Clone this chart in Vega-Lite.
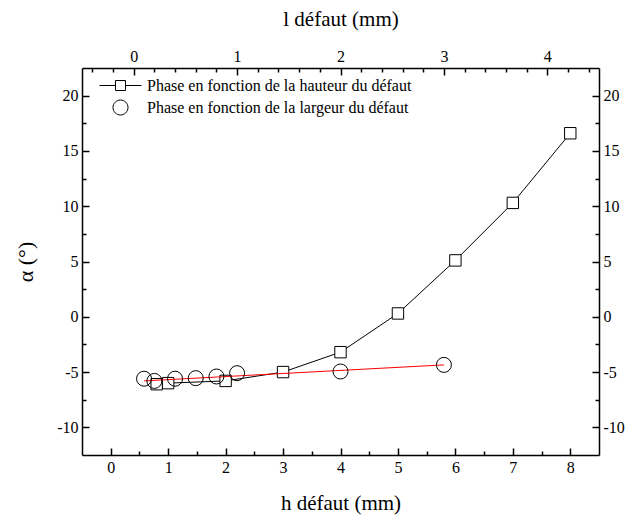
{
  "$schema": "https://vega.github.io/schema/vega-lite/v6.json",
  "width": 517,
  "height": 387,
  "autosize": "none",
  "padding": {"left": 82, "top": 68, "right": 37, "bottom": 70},
  "background": "white",
  "config": {
    "view": {"stroke": null},
    "axis": {
      "labelFont": "Liberation Serif",
      "labelFontSize": 16,
      "labelColor": "black",
      "labelOverlap": false,
      "labelFlush": false,
      "labelBound": false,
      "titleFont": "Liberation Serif",
      "titleColor": "black",
      "titleFontWeight": "normal",
      "grid": false,
      "domainColor": "black",
      "domainWidth": 1.5,
      "tickColor": "black",
      "tickWidth": 1.5
    },
    "legend": {
      "labelFont": "Liberation Serif",
      "labelFontSize": 16,
      "labelColor": "black",
      "labelLimit": 0
    }
  },
  "datasets": {
    "hauteur": [
      {"h": 0.8, "alpha": -6.1},
      {"h": 1, "alpha": -6.0},
      {"h": 2, "alpha": -5.8},
      {"h": 3, "alpha": -5.0},
      {"h": 4, "alpha": -3.2},
      {"h": 5, "alpha": 0.3},
      {"h": 6, "alpha": 5.1},
      {"h": 7, "alpha": 10.3},
      {"h": 8, "alpha": 16.6}
    ],
    "largeur": [
      {"l": 0.1, "alpha": -5.6},
      {"l": 0.2, "alpha": -5.8},
      {"l": 0.4, "alpha": -5.6},
      {"l": 0.6, "alpha": -5.55},
      {"l": 0.8, "alpha": -5.4},
      {"l": 1.0, "alpha": -5.1},
      {"l": 2.0, "alpha": -4.95},
      {"l": 3.0, "alpha": -4.35}
    ],
    "fit": [
      {"l": 0.1, "alpha": -5.8},
      {"l": 3.0, "alpha": -4.35}
    ],
    "legende": [
      {"serie": "Phase en fonction de la hauteur du défaut"},
      {"serie": "Phase en fonction de la largeur du défaut"}
    ]
  },
  "layer": [
    {
      "encoding": {
        "x": {
          "field": "h", "type": "quantitative",
          "scale": {"domain": [-0.5, 8.5], "nice": false, "zero": false},
          "axis": {
            "orient": "bottom",
            "values": [0, 0.5, 1, 1.5, 2, 2.5, 3, 3.5, 4, 4.5, 5, 5.5, 6, 6.5, 7, 7.5, 8],
            "labelExpr": "datum.value % 1 === 0 ? '' + datum.value : ''",
            "labelOverlap": false,
            "tickSize": {"condition": {"test": "datum.value % 1 === 0", "value": -7}, "value": -4},
            "labelPadding": 11,
            "title": "h défaut (mm)",
            "titleFontSize": 21,
            "titlePadding": 14
          }
        },
        "y": {
          "field": "alpha", "type": "quantitative",
          "scale": {"domain": [-12.5, 22.5], "nice": false, "zero": false},
          "axis": {
            "orient": "left",
            "values": [-10, -7.5, -5, -2.5, 0, 2.5, 5, 7.5, 10, 12.5, 15, 17.5, 20],
            "labelExpr": "datum.value % 5 === 0 ? '' + datum.value : ''",
            "labelOverlap": false,
            "tickSize": {"condition": {"test": "datum.value % 5 === 0", "value": -7}, "value": -4},
            "labelPadding": 11,
            "title": "α (°)",
            "titleFontSize": 22,
            "titlePadding": 19
          }
        }
      },
      "layer": [
        {
          "data": {"name": "hauteur"},
          "mark": {"type": "line", "color": "black", "strokeWidth": 1}
        },
        {
          "data": {"name": "hauteur"},
          "mark": {"type": "point", "shape": "square", "size": 130, "filled": true, "fill": "white", "stroke": "black", "strokeWidth": 1, "opacity": 1}
        }
      ]
    },
    {
      "encoding": {
        "x": {
          "field": "l", "type": "quantitative",
          "scale": {"domain": [-0.5, 4.5], "nice": false, "zero": false},
          "axis": {
            "orient": "top",
            "values": [-0.4, -0.2, 0, 0.2, 0.4, 0.6, 0.8, 1, 1.2, 1.4, 1.6, 1.8, 2, 2.2, 2.4, 2.6, 2.8, 3, 3.2, 3.4, 3.6, 3.8, 4, 4.2, 4.4],
            "labelExpr": "datum.value % 1 === 0 ? '' + datum.value : ''",
            "labelOverlap": false,
            "tickSize": {"condition": {"test": "datum.value % 1 === 0", "value": -7}, "value": -4},
            "labelPadding": 11,
            "title": "l défaut (mm)",
            "titleFontSize": 21,
            "titlePadding": 16
          }
        },
        "y": {
          "field": "alpha", "type": "quantitative",
          "scale": {"domain": [-12.5, 22.5], "nice": false, "zero": false},
          "axis": {
            "orient": "right",
            "values": [-10, -7.5, -5, -2.5, 0, 2.5, 5, 7.5, 10, 12.5, 15, 17.5, 20],
            "labelExpr": "datum.value % 5 === 0 ? '' + datum.value : ''",
            "labelOverlap": false,
            "tickSize": {"condition": {"test": "datum.value % 5 === 0", "value": -7}, "value": -4},
            "labelPadding": 11,
            "title": null
          }
        }
      },
      "layer": [
        {
          "data": {"name": "fit"},
          "mark": {"type": "line", "color": "red", "strokeWidth": 1}
        },
        {
          "data": {"name": "largeur"},
          "mark": {"type": "point", "shape": "circle", "size": 225, "filled": false, "color": "black", "strokeWidth": 1, "opacity": 1}
        },
        {
          "data": {"name": "legende"},
          "transform": [{"filter": "false"}],
          "mark": {"type": "point", "filled": false, "color": "black", "strokeWidth": 1, "opacity": 1},
          "encoding": {
            "shape": {
              "field": "serie", "type": "nominal",
              "scale": {
                "domain": ["Phase en fonction de la hauteur du défaut", "Phase en fonction de la largeur du défaut"],
                "range": ["M-2.1,0H-0.5M0.5,0H2.1M-0.5,-0.5H0.5V0.5H-0.5Z", "M-0.75,0A0.75,0.75 0 1,0 0.75,0A0.75,0.75 0 1,0 -0.75,0Z"]
              },
              "legend": {
                "orient": "top-left",
                "offset": 7,
                "title": null,
                "padding": 0,
                "symbolSize": 400,
                "symbolOffset": 21,
                "labelOffset": 16,
                "rowPadding": 3,
                "symbolStrokeColor": "black",
                "symbolStrokeWidth": 1
              }
            }
          }
        }
      ]
    }
  ],
  "resolve": {
    "scale": {"x": "independent"},
    "axis": {"x": "independent", "y": "independent"}
  }
}
